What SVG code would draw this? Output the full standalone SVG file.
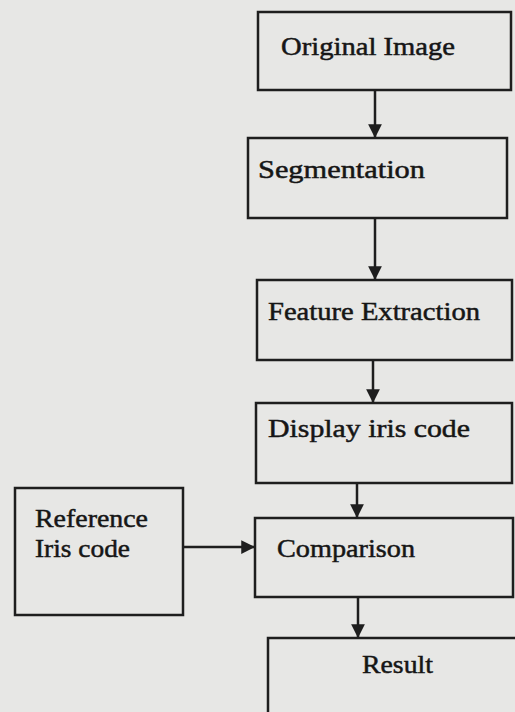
<svg xmlns="http://www.w3.org/2000/svg" width="515" height="712" viewBox="0 0 515 712">
<defs>
<style>
.box{fill:none;stroke:#1e1e1e;stroke-width:2.5}
.t{font-family:"Liberation Serif","Times New Roman",serif;font-size:26px;fill:#161616;stroke:#161616;stroke-width:0.5}
.c{stroke:#1e1e1e;stroke-width:2.5;fill:none}
</style>
<marker id="ah" viewBox="0 0 10 10" refX="10" refY="5" markerWidth="5.5" markerHeight="5.5" orient="auto" markerUnits="strokeWidth">
<path d="M0,0 L10,5 L0,10 z" fill="#1e1e1e"/>
</marker>
</defs>
<rect x="0" y="0" width="515" height="712" fill="#e7e7e5"/>
<g id="n1"><rect class="box" x="258" y="12" width="253" height="78"/><text class="t" x="281" y="55" textLength="174" lengthAdjust="spacingAndGlyphs">Original Image</text></g>
<g id="n2"><rect class="box" x="248" y="138" width="259" height="80"/><text class="t" x="258" y="178" textLength="167" lengthAdjust="spacingAndGlyphs">Segmentation</text></g>
<g id="n3"><rect class="box" x="257" y="280" width="255" height="80"/><text class="t" x="268" y="320" textLength="212" lengthAdjust="spacingAndGlyphs">Feature Extraction</text></g>
<g id="n4"><rect class="box" x="256" y="403" width="256" height="80"/><text class="t" x="268" y="437" textLength="202" lengthAdjust="spacingAndGlyphs">Display iris code</text></g>
<g id="n5"><rect class="box" x="15" y="488" width="168" height="127"/><text class="t" x="35" y="527" textLength="113" lengthAdjust="spacingAndGlyphs">Reference</text><text class="t" x="35" y="557" textLength="95" lengthAdjust="spacingAndGlyphs">Iris code</text></g>
<g id="n6"><rect class="box" x="255" y="518" width="258" height="79"/><text class="t" x="277" y="557" textLength="138" lengthAdjust="spacingAndGlyphs">Comparison</text></g>
<g id="n7"><rect class="box" x="268" y="638" width="250" height="90"/><text class="t" x="362" y="673" textLength="71" lengthAdjust="spacingAndGlyphs">Result</text></g>
<g id="connectors">
<line class="c" x1="375" y1="90" x2="375" y2="138" marker-end="url(#ah)"/>
<line class="c" x1="375" y1="218" x2="375" y2="280" marker-end="url(#ah)"/>
<line class="c" x1="373" y1="360" x2="373" y2="403" marker-end="url(#ah)"/>
<line class="c" x1="357" y1="483" x2="357" y2="518" marker-end="url(#ah)"/>
<line class="c" x1="358" y1="597" x2="358" y2="638" marker-end="url(#ah)"/>
<line class="c" x1="183" y1="547" x2="255" y2="547" marker-end="url(#ah)"/>
</g>
</svg>
